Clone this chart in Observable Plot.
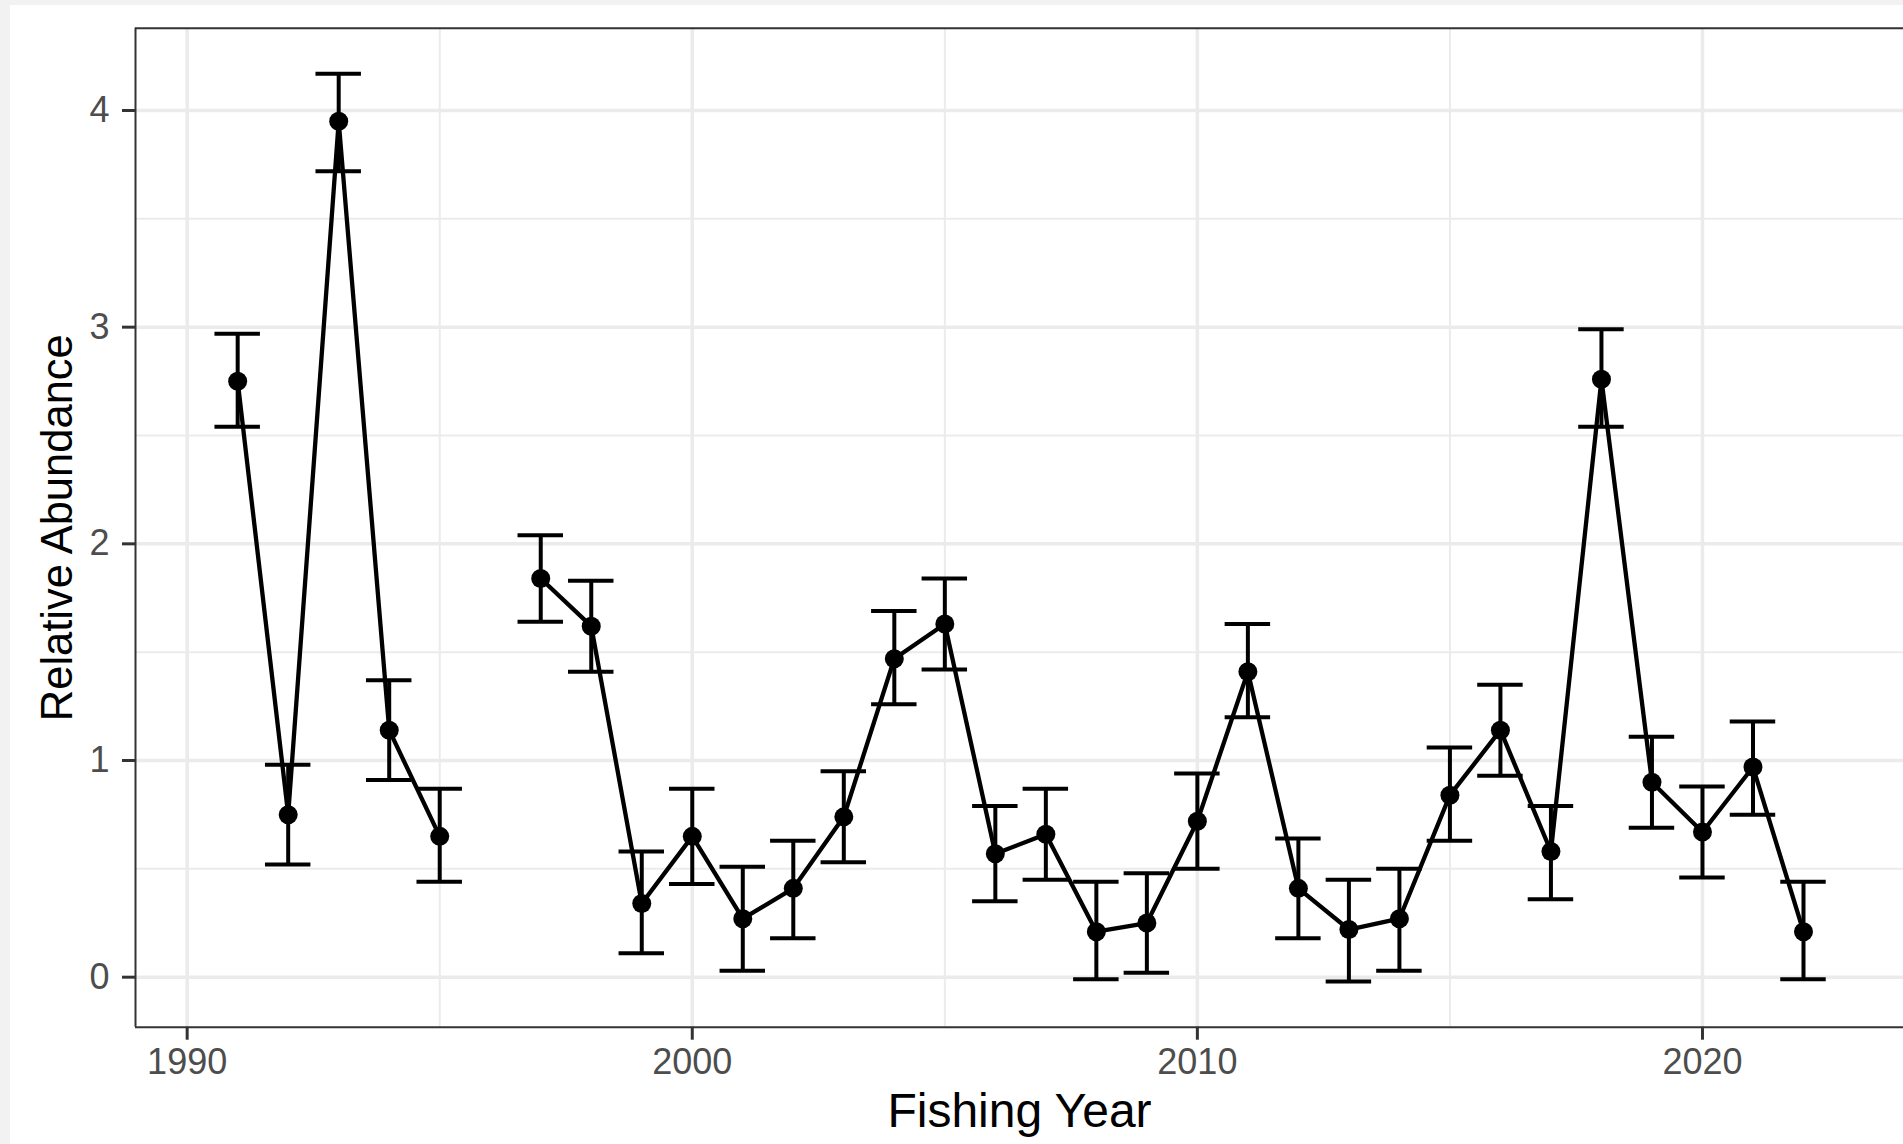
<!DOCTYPE html>
<html>
<head>
<meta charset="utf-8">
<script src="https://cdn.jsdelivr.net/npm/d3@7"></script>
<script src="https://cdn.jsdelivr.net/npm/@observablehq/plot@0.6"></script>
<style>
  html, body { margin: 0; padding: 0; background: #f2f2f2; overflow: hidden; }
  #chart { position: absolute; left: 10px; top: 5px; width: 1893px; height: 1139px; background: #ffffff; }
</style>
</head>
<body>
<div id="chart"></div>
<script>
// Fishing years (1996 has no estimate: the line breaks there)
const years = [1991, 1992, 1993, 1994, 1995, 1996, 1997, 1998, 1999, 2000,
               2001, 2002, 2003, 2004, 2005, 2006, 2007, 2008, 2009, 2010,
               2011, 2012, 2013, 2014, 2015, 2016, 2017, 2018, 2019, 2020,
               2021, 2022];
// Relative abundance estimates
const abundance = [2.75, 0.75, 3.95, 1.14, 0.65, null, 1.84, 1.62, 0.34, 0.65,
                   0.27, 0.41, 0.74, 1.47, 1.63, 0.57, 0.66, 0.21, 0.25, 0.72,
                   1.41, 0.41, 0.22, 0.27, 0.84, 1.14, 0.58, 2.76, 0.90, 0.67,
                   0.97, 0.21];
// Lower and upper error bar limits
const lower = [2.54, 0.52, 3.72, 0.91, 0.44, null, 1.64, 1.41, 0.11, 0.43,
               0.03, 0.18, 0.53, 1.26, 1.42, 0.35, 0.45, -0.01, 0.02, 0.50,
               1.20, 0.18, -0.02, 0.03, 0.63, 0.93, 0.36, 2.54, 0.69, 0.46,
               0.75, -0.01];
const upper = [2.97, 0.98, 4.17, 1.37, 0.87, null, 2.04, 1.83, 0.58, 0.87,
               0.51, 0.63, 0.95, 1.69, 1.84, 0.79, 0.87, 0.44, 0.48, 0.94,
               1.63, 0.64, 0.45, 0.50, 1.06, 1.35, 0.79, 2.99, 1.11, 0.88,
               1.18, 0.44];

// Axis ticks
const xMajor = [1990, 2000, 2010, 2020];
const xMinor = [1995, 2005, 2015];
const yMajor = [0, 1, 2, 3, 4];
const yMinor = [0.5, 1.5, 2.5, 3.5];

const xLabel = "Fishing Year";
const yLabel = "Relative Abundance";

const data = years.map((year, i) => ({
  year,
  value: abundance[i],
  lower: lower[i],
  upper: upper[i]
}));

const xDomain = [1988.977, 2023.98];
const yDomain = [-0.2308, 4.3798];
const capHalf = 0.45;

const chart = Plot.plot({
  width: 1893,
  height: 1139,
  marginLeft: 125,
  marginRight: 0,
  marginTop: 22.7,
  marginBottom: 117.3,
  style: {
    background: "#ffffff",
    fontFamily: "'Liberation Sans', Arial, Helvetica, sans-serif",
    overflow: "visible"
  },
  x: { domain: xDomain, axis: null },
  y: { domain: yDomain, axis: null },
  marks: [
    Plot.gridY(yMinor, { stroke: "#ebebeb", strokeOpacity: 1, strokeWidth: 2 }),
    Plot.gridX(xMinor, { stroke: "#ebebeb", strokeOpacity: 1, strokeWidth: 2 }),
    Plot.gridY(yMajor, { stroke: "#ebebeb", strokeOpacity: 1, strokeWidth: 3.5 }),
    Plot.gridX(xMajor, { stroke: "#ebebeb", strokeOpacity: 1, strokeWidth: 3.5 }),
    // error bars
    Plot.ruleX(data, { x: "year", y1: "lower", y2: "upper", stroke: "black", strokeWidth: 4 }),
    Plot.ruleY(data, { y: "upper", x1: d => d.year - capHalf, x2: d => d.year + capHalf, stroke: "black", strokeWidth: 4 }),
    Plot.ruleY(data, { y: "lower", x1: d => d.year - capHalf, x2: d => d.year + capHalf, stroke: "black", strokeWidth: 4 }),
    // line and points
    Plot.line(data, { x: "year", y: "value", stroke: "black", strokeWidth: 4.3 }),
    Plot.dot(data, { x: "year", y: "value", r: 9.5, fill: "black", stroke: "none" }),
    // panel border (left, top, bottom)
    Plot.ruleX([xDomain[0]], { stroke: "#333333", strokeWidth: 2 }),
    Plot.ruleY([yDomain[0], yDomain[1]], { stroke: "#333333", strokeWidth: 2 }),
    // axes
    Plot.axisX(xMajor, {
      tickSize: 13, tickPadding: 8, fontSize: 36,
      stroke: "#333333", strokeWidth: 3, fill: "#4d4d4d",
      tickFormat: d => String(d), label: null
    }),
    Plot.axisY(yMajor, {
      tickSize: 13, tickPadding: 13, fontSize: 36,
      stroke: "#333333", strokeWidth: 3, fill: "#4d4d4d",
      tickFormat: d => String(d), label: null
    }),
    // axis titles
    Plot.text([xLabel], {
      text: d => d, frameAnchor: "bottom", textAnchor: "middle", lineAnchor: "bottom",
      dy: 100, fontSize: 48, fill: "black"
    }),
    Plot.text([yLabel], {
      text: d => d, frameAnchor: "left", textAnchor: "middle", lineAnchor: "bottom", rotate: -90,
      dx: -64, fontSize: 43.5, fill: "black"
    })
  ]
});

document.getElementById("chart").appendChild(chart);
</script>
</body>
</html>
